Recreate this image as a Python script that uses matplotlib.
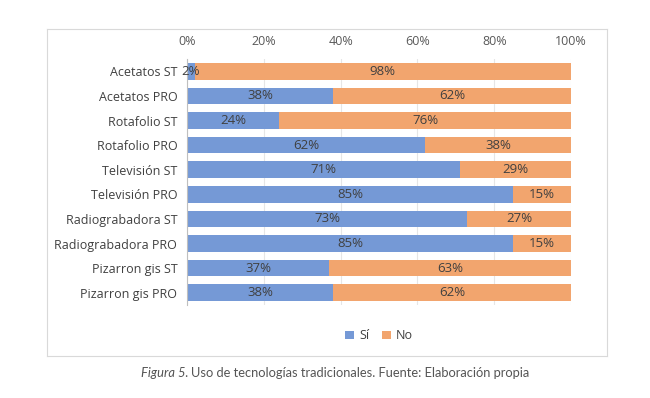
import matplotlib.pyplot as plt
import numpy as np

plt.rcParams['font.family'] = ['Open Sans', 'DejaVu Sans']

categories = ["Acetatos ST", "Acetatos PRO", "Rotafolio ST", "Rotafolio PRO",
              "Televisión ST", "Televisión PRO", "Radiograbadora ST",
              "Radiograbadora PRO", "Pizarron gis ST", "Pizarron gis PRO"]
si = [2, 38, 24, 62, 71, 85, 73, 85, 37, 38]
no = [98, 62, 76, 38, 29, 15, 27, 15, 63, 62]

blue = "#7599D6"
orange = "#F2A56E"
text_col = "#404040"

fig = plt.figure(figsize=(6.5, 3.98), dpi=100)

# chart frame
frame = fig.add_axes([47 / 650, 1 - 356 / 398, 560 / 650, 327 / 398])
frame.set_xticks([])
frame.set_yticks([])
for s in frame.spines.values():
    s.set_color("#D9D9D9")
    s.set_linewidth(0.8)

ax = fig.add_axes([187 / 650, 1 - 305 / 398, 384 / 650, 246 / 398])
ax.patch.set_alpha(0)
y = np.arange(len(categories))
h = 0.68
ax.barh(y, si, height=h, color=blue, label="Sí", zorder=2)
ax.barh(y, no, left=si, height=h, color=orange, label="No", zorder=2)

for i in range(len(categories)):
    ax.text(si[i] / 2, y[i], f"{si[i]}%", ha="center", va="center",
            fontsize=9.5, color=text_col, zorder=3)
    ax.text(si[i] + no[i] / 2, y[i], f"{no[i]}%", ha="center", va="center",
            fontsize=9.5, color=text_col, zorder=3)

ax.set_xlim(0, 100)
ax.set_ylim(len(categories) - 0.5, -0.5)
ax.set_yticks(y)
ax.set_yticklabels(categories, fontsize=9, color=text_col)
ax.set_xticks(np.arange(0, 101, 20))
ax.set_xticklabels([f"{v}%" for v in range(0, 101, 20)], fontsize=9, color="#595959")
ax.xaxis.tick_top()
ax.tick_params(length=0, pad=7)
ax.tick_params(axis="x", pad=8)
ax.grid(axis="x", color="#E6E6E6", linewidth=0.8, zorder=0)
for s in ["top", "right", "bottom"]:
    ax.spines[s].set_visible(False)
ax.spines["left"].set_color("#BFBFBF")

ax.legend(loc="center", bbox_to_anchor=(0.5, -0.125),
          ncol=2, frameon=False, fontsize=9, handlelength=0.7, handleheight=0.7,
          columnspacing=1.0, handletextpad=0.4, labelcolor=text_col)

# caption: italic figure number followed by regular text, centred as a block
cap_y = 1 - 373 / 398
fig.canvas.draw()
t1 = fig.text(0, cap_y, "Figura 5.", fontsize=9.3, style="italic", color="#555555",
              family=["Lato", "DejaVu Sans"], va="center")
t2 = fig.text(0, cap_y, "Uso de tecnologías tradicionales. Fuente: Elaboración propia",
              fontsize=9.3, color="#555555", family=["Lato", "DejaVu Sans"], va="center")
r = fig.canvas.get_renderer()
w1 = t1.get_window_extent(r).width / fig.bbox.width
w2 = t2.get_window_extent(r).width / fig.bbox.width
gap = 0.004
start = 335 / 650 - (w1 + gap + w2) / 2
t1.set_x(start)
t2.set_x(start + w1 + gap)

fig.savefig("out.png", dpi=100)
